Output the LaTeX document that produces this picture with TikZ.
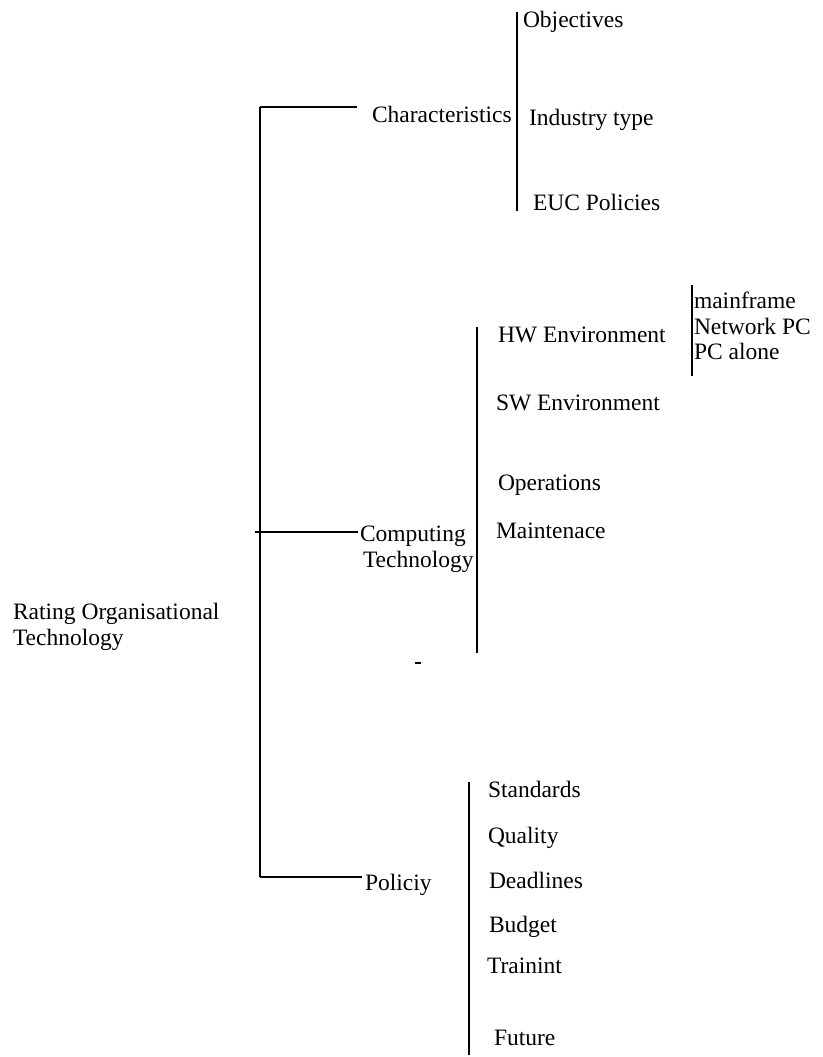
\documentclass[tikz,border=0pt]{standalone}
\usepackage{fontspec}
\setmainfont{Liberation Serif}

\tikzset{every picture/.style={line width=2pt}}
\tikzset{
  lbl/.style={anchor=base west, inner sep=0pt, font=\fontsize{23.5}{26}\selectfont},
  lnk/.style={line width=2.3pt},
  brk/.style={line width=2.7pt}
}

\begin{document}
\begin{tikzpicture}[x=1pt,y=1pt,yscale=-1,xscale=1]
\useasboundingbox (0,0) rectangle (822,1057);

%Root (base = last line)
\node [lbl, align=left] (root) at (12,645) {Rating Organisational\\Technology};

%Spine
\coordinate (spinetop) at (260,107);
\coordinate (spinebot) at (260,877);
\coordinate (spinemid) at (255,532);
\draw [brk] (spinetop) -- (spinebot);

% Text Node
\node [lbl] (charac) at (371,122) {Characteristics};
\node [lbl, align=left] (comp) at (359,567) {Computing\\\hspace*{3pt}Technology};
\node [lbl] (pol) at (364,890) {Policiy};

%Straight Lines
\coordinate (characin) at (357,107);
\coordinate (compin) at (358,532);
\coordinate (polin) at (362,877);
\draw [lnk] (spinetop) -- (characin);
\draw [lnk] (spinemid) -- (compin);
\draw [lnk] (spinebot) -- (polin);

%Characteristics bracket
\coordinate (chartop) at (517,12);
\coordinate (charbot) at (517,211);
\draw [brk] (chartop) -- (charbot);
\node [lbl] (obj) at (522,28) {Objectives};
\node [lbl] (ind) at (528,125) {Industry type};
\node [lbl] (euc) at (532,210) {EUC Policies};

%Computing bracket
\coordinate (comptop) at (477,327);
\coordinate (compbot) at (477,653);
\draw [brk] (comptop) -- (compbot);
\node [lbl] (hw) at (497,342) {HW Environment};
\node [lbl] (sw) at (495,410) {SW Environment};
\node [lbl] (ops) at (497,490) {Operations};
\node [lbl] (maint) at (495,538) {Maintenace};

%HW bracket
\coordinate (hwtop) at (692,285);
\coordinate (hwbot) at (692,376);
\draw [brk] (hwtop) -- (hwbot);
\node [lbl] (mainfr) at (693,308) {mainframe};
\node [lbl] (netpc) at (693,334) {Network PC};
\node [lbl] (pcal) at (693,359) {PC alone};

%Policy bracket
\coordinate (poltop) at (469,782);
\coordinate (polbot) at (469,1055);
\draw [brk] (poltop) -- (polbot);
\node [lbl] (stand) at (487,797) {Standards};
\node [lbl] (qual) at (487,843) {Quality};
\node [lbl] (dead) at (488,888) {Deadlines};
\node [lbl] (budg) at (488,932) {Budget};
\node [lbl] (train) at (486,973) {Trainint};
\node [lbl] (fut) at (493,1045) {Future};

%Stray mark
\fill (415,662) rectangle (421,664);

\end{tikzpicture}
\end{document}
